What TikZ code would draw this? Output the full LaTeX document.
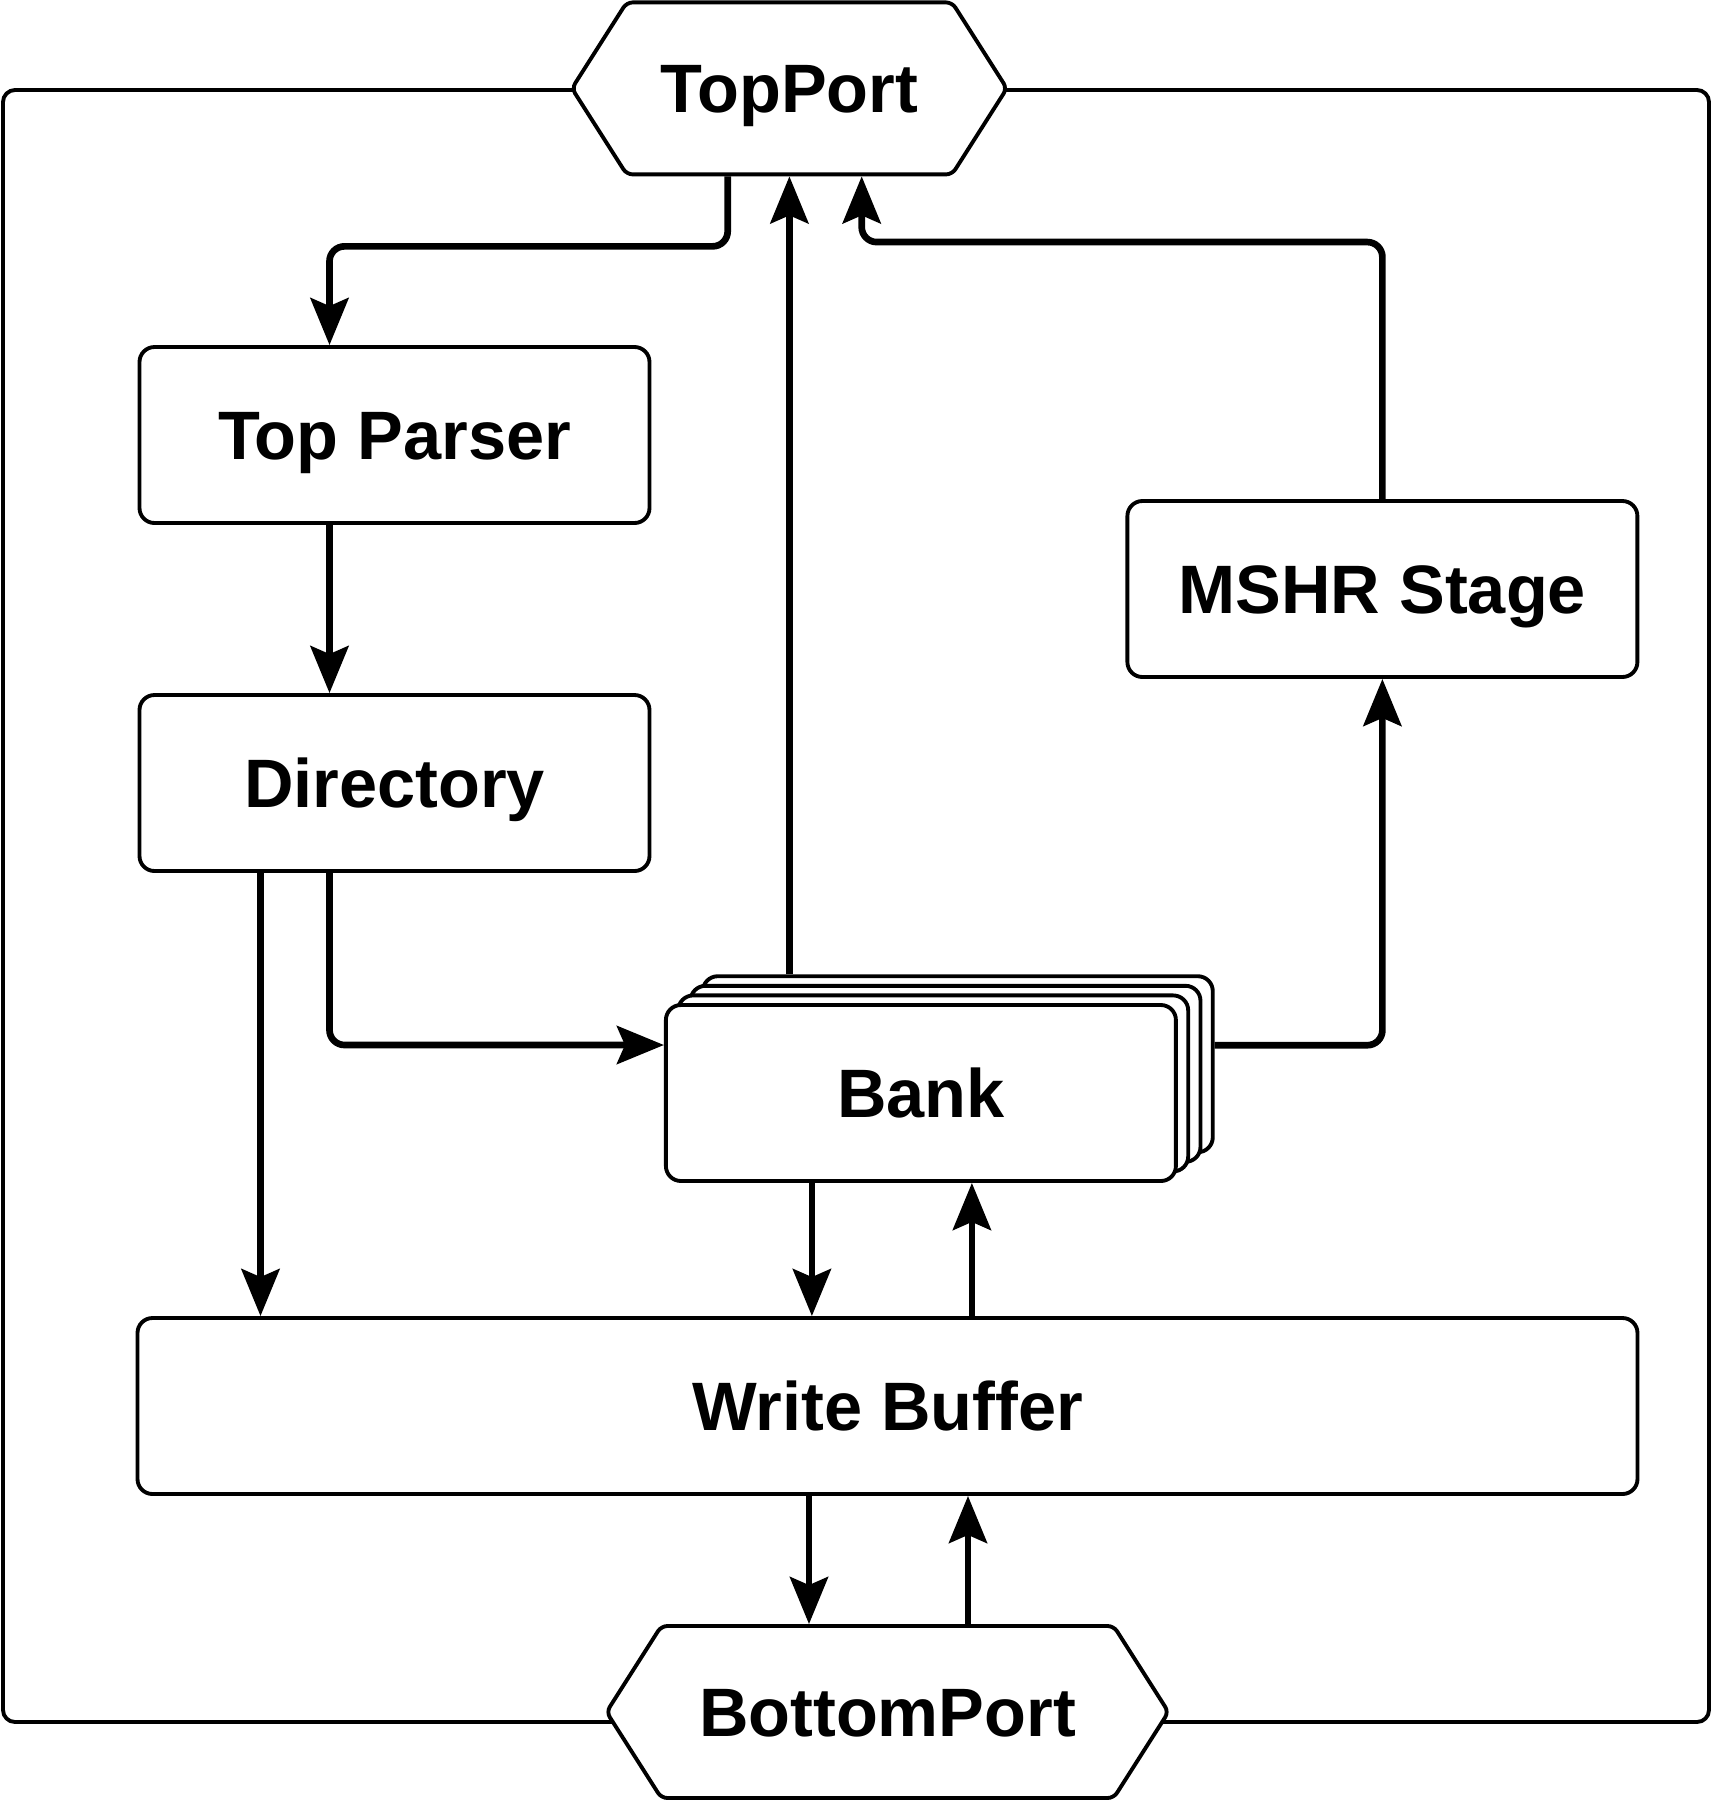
\documentclass[tikz,border=0pt]{standalone}
\usepackage{fontspec}
\setmainfont{Liberation Sans}
\usetikzlibrary{shapes.symbols, arrows.meta, positioning}

\begin{document}
\begin{tikzpicture}[x=1cm, y=-1cm,
    block/.style={draw, line width=1.1pt, rounded corners=0.15cm, fill=white,
        minimum width=5.1cm, minimum height=1.76cm, text height=0.49cm, text depth=0pt,
        font=\bfseries\fontsize{19.5}{23}\selectfont},
    port/.style={draw, line width=1.1pt, fill=white, signal, signal to=east and west,
        signal pointer angle=115, rounded corners=0.06cm, minimum height=1.72cm,
        text height=0.49cm, text depth=0pt,
        font=\bfseries\fontsize{19.5}{23}\selectfont},
    link/.style={line width=1.9pt, rounded corners=0.15cm,
        -{Stealth[length=0.47cm, width=0.38cm, inset=0.08cm]}}]
\useasboundingbox (0,0) rectangle (17.12,18.00);

% outer frame
\draw[line width=1.1pt, rounded corners=0.12cm] (0.03,0.90) rectangle (17.09,17.22);

% ports
\node[port, minimum width=4.35cm] (tport) at (7.894,0.884) {TopPort};
\node[port, minimum width=5.62cm] (bport) at (8.875,17.12) {BottomPort};

% pipeline blocks
\node[block] (tparser) at (3.945,4.35) {Top Parser};
\node[block] (dir) at (3.945,7.83) {Directory};
\node[block] (mshr) at (13.824,5.89) {MSHR Stage};
\foreach \k in {3,2,1} {
    \node[block] (bank\k) at ({9.209+0.123*\k},{10.93-0.096*\k}) {};
}
\node[block] (bank) at (9.209,10.93) {Bank};
\node[block, minimum width=15.0cm] (wbuf) at (8.875,14.06) {Write Buffer};

% request path
\draw[link] ([xshift=-0.617cm]tport.south) -- ++(0,0.70) -| ([xshift=-0.65cm]tparser.north);
\draw[link] ([xshift=-0.65cm]tparser.south) -- ([xshift=-0.65cm]dir.north);
\draw[link] ([xshift=-0.65cm]dir.south) |- ([yshift=0.48cm]bank.west);
\coordinate (d1) at ([xshift=-1.34cm]dir.south);
\draw[link] (d1) -- (d1 |- wbuf.north);

% responses back up
\draw[link] (bank3.north -| tport.south) -- (tport.south);
\draw[link] ([yshift=0.19cm]bank3.east) -| (mshr.south);
\draw[link] (mshr.north) -- ++(0,-2.57) -| ([xshift=0.723cm]tport.south);

% bank <-> write buffer <-> bottom port
\coordinate (b1) at ([xshift=-1.09cm]bank.south);
\coordinate (b2) at ([xshift=0.51cm]bank.south);
\draw[link] (b1) -- (b1 |- wbuf.north);
\draw[link] (b2 |- wbuf.north) -- (b2);
\coordinate (p1) at ([xshift=-0.785cm]bport.north);
\coordinate (p2) at ([xshift=0.805cm]bport.north);
\draw[link] (p1 |- wbuf.south) -- (p1);
\draw[link] (p2) -- (p2 |- wbuf.south);
\end{tikzpicture}
\end{document}
